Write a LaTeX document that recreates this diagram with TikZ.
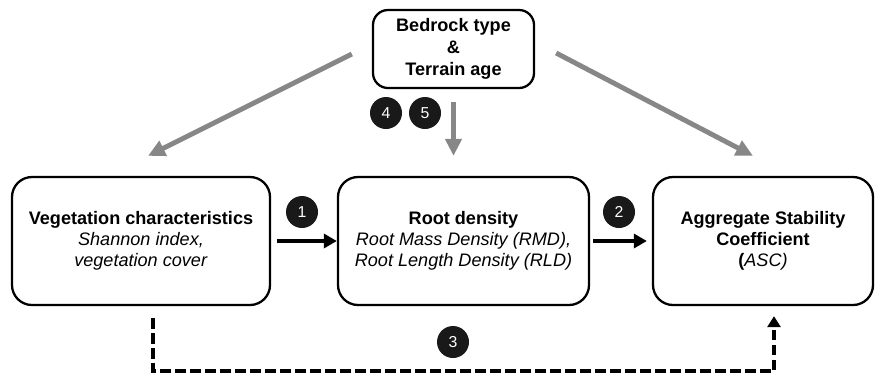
\documentclass[tikz,border=0pt]{standalone}
\usepackage{fontspec}
\setmainfont{Liberation Sans}
\usetikzlibrary{calc}
\usetikzlibrary{positioning}
\usetikzlibrary{arrows.meta}

\begin{document}
\begin{tikzpicture}[
        block/.style={
            rectangle,
            rounded corners=0.4cm,
            draw,
            line width=1.3pt,
            minimum height=2.56cm,
            align=center,
            font=\fontsize{10.3}{11.8}\selectfont,
        },
        topblock/.style={
            block,
            minimum width=3.22cm,
            minimum height=1.56cm,
            rounded corners=0.3cm,
            font=\fontsize{10.3}{12.5}\selectfont\bfseries,
        },
        num/.style={
            circle,
            fill=black!90,
            text=white,
            minimum size=0.64cm,
            inner sep=0pt,
            font=\fontsize{9}{9}\selectfont,
        },
        grayarrow/.style={
            draw=black!47,
            line width=2.8pt,
            -{Triangle[length=0.34cm,width=0.32cm]},
        },
        blackarrow/.style={
            line width=2.3pt,
            -{Triangle[length=0.26cm,width=0.28cm]},
        },
        dasharrow/.style={
            line width=2.2pt,
            dash pattern=on 0.21cm off 0.09cm,
            -{Triangle[length=0.22cm,width=0.26cm]},
        }
    ]

    \useasboundingbox (0,0) rectangle (17.5,-7.58);

    \node (bed) at (9.07,-0.98) [topblock] {Bedrock type\\\&\\Terrain age};
    \node (veg) at (2.82,-4.82) [block, minimum width=5.16cm] {\textbf{Vegetation characteristics}\\\textit{Shannon index,}\\\textit{vegetation cover}};
    \node (root) at (9.27,-4.82) [block, minimum width=5.02cm] {\textbf{Root density}\\\textit{Root Mass Density (RMD),}\\\textit{Root Length Density (RLD)}};
    \node (asc) at (15.26,-4.82) [block, minimum width=4.4cm] {\textbf{Aggregate Stability}\\\textbf{Coefficient}\\\textbf{(}\textit{ASC)}};

    \node (n1) at (6.04,-4.24) [num] {1};
    \node (n2) at (12.38,-4.24) [num] {2};
    \node (n3) at (9.06,-6.84) [num] {3};
    \node (n4) at (7.72,-2.26) [num] {4};
    \node (n5) at (8.50,-2.26) [num] {5};

    \draw [grayarrow] ([xshift=-0.4cm,yshift=-0.1cm]bed.west) -- ([xshift=0.14cm,yshift=0.4cm]veg.north);
    \draw [grayarrow] ([yshift=-0.26cm]bed.south) -- ([yshift=0.4cm]bed.south |- root.north);
    \draw [grayarrow] ([xshift=0.42cm,yshift=-0.08cm]bed.east) -- ([xshift=-0.2cm,yshift=0.4cm]asc.north);

    \draw [blackarrow, shorten <=0.12cm] (veg) -- (root);
    \draw [blackarrow, shorten <=0.06cm, shorten >=0.1cm] (root) -- (asc);

    \draw [dasharrow] ([xshift=0.24cm,yshift=-0.24cm]veg.south) -- ++(0,-1.06) -| ([xshift=0.22cm,yshift=-0.2cm]asc.south);

\end{tikzpicture}
\end{document}
